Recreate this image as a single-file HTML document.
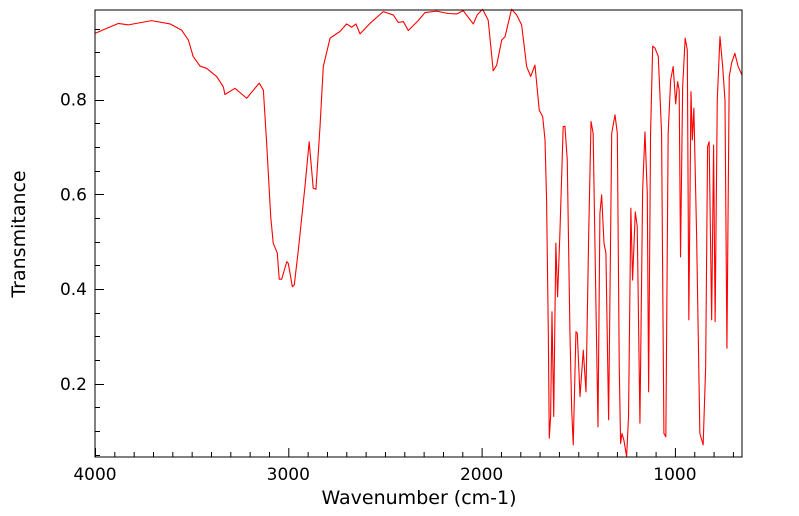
<!DOCTYPE html>
<html><head><meta charset="utf-8"><style>
html,body{margin:0;padding:0;background:#fff;}
svg{display:block;font-family:"DejaVu Sans","Liberation Sans",sans-serif;}
</style></head><body>
<svg id="chart" width="799" height="516" viewBox="0 0 799 516" xmlns="http://www.w3.org/2000/svg">
<g id="axes"></g>
<path id="series" fill="none" stroke="#ff0000" stroke-width="1.1" stroke-linejoin="round"></path>
<rect x="95" y="10" width="647" height="447" fill="none" stroke="#000" stroke-width="1"></rect>
<text x="419" y="504" font-size="19" text-anchor="middle">Wavenumber (cm-1)</text>
<text transform="translate(25,234) rotate(-90)" font-size="19" text-anchor="middle">Transmitance</text>
</svg>
<script>
const wavenumbers = [4000,3880,3828,3707,3612,3552,3517,3492,3457,3422,3371,3336,3328,3276,3215,3181,3150,3129,3112,3091,3078,3057,3047,3034,3008,3000,2979,2969,2948,2914,2892,2871,2857,2836,2819,2784,2733,2698,2672,2650,2629,2578,2509,2457,2431,2405,2379,2328,2293,2233,2173,2129,2095,2043,2023,1995,1966,1940,1922,1896,1879,1845,1819,1793,1767,1746,1724,1702,1684,1672,1664,1655,1650,1643,1636,1627,1616,1607,1595,1578,1569,1557,1543,1534,1526,1512,1505,1491,1474,1460,1446,1434,1423,1409,1398,1388,1379,1367,1357,1343,1327,1310,1298,1288,1281,1274,1264,1250,1240,1228,1219,1205,1195,1181,1167,1155,1143,1136,1126,1115,1103,1086,1069,1057,1047,1035,1022,1009,996,986,978,971,960,947,936,928,917,910,902,888,871,854,841,831,823,810,800,792,781,767,753,741,731,719,707,690,673,653];
const transmittance = [0.940,0.961,0.958,0.967,0.960,0.947,0.926,0.891,0.871,0.866,0.849,0.827,0.811,0.824,0.803,0.820,0.835,0.820,0.708,0.553,0.497,0.476,0.421,0.421,0.458,0.454,0.405,0.409,0.483,0.616,0.711,0.613,0.611,0.743,0.870,0.930,0.944,0.960,0.953,0.960,0.939,0.961,0.986,0.979,0.963,0.965,0.946,0.967,0.984,0.987,0.982,0.981,0.988,0.960,0.979,0.991,0.968,0.861,0.873,0.926,0.933,0.991,0.979,0.958,0.870,0.849,0.873,0.778,0.764,0.715,0.588,0.307,0.085,0.131,0.352,0.131,0.497,0.384,0.518,0.743,0.744,0.673,0.307,0.145,0.071,0.310,0.307,0.173,0.271,0.183,0.518,0.754,0.729,0.377,0.109,0.560,0.599,0.497,0.476,0.124,0.729,0.768,0.729,0.236,0.074,0.095,0.081,0.046,0.131,0.571,0.419,0.563,0.532,0.117,0.609,0.732,0.602,0.183,0.729,0.913,0.909,0.891,0.729,0.095,0.088,0.729,0.842,0.870,0.791,0.838,0.820,0.468,0.827,0.930,0.905,0.335,0.817,0.715,0.782,0.518,0.095,0.071,0.236,0.701,0.711,0.335,0.704,0.331,0.799,0.933,0.870,0.799,0.275,0.849,0.877,0.898,0.870,0.852];
const xTickLabels = [4000,3000,2000,1000];
const yTickLabels = [0.2,0.4,0.6,0.8];

const X0=95,X1=742,Y0=10,Y1=457;
const xDom=[4000,653], yDom=[0.0454,0.9894];
function xs(v){return X0+(xDom[0]-v)/(xDom[0]-xDom[1])*(X1-X0);}
function ys(v){return Y1-(v-yDom[0])/(yDom[1]-yDom[0])*(Y1-Y0);}
const NS="http://www.w3.org/2000/svg";
const axes=document.getElementById('axes');
function line(x1,y1,x2,y2,name){
  const l=document.createElementNS(NS,'line');
  l.setAttribute('x1',x1);l.setAttribute('y1',y1);l.setAttribute('x2',x2);l.setAttribute('y2',y2);
  l.setAttribute('stroke','#000');l.setAttribute('stroke-width','1');
  
  
  axes.appendChild(l);
}
function text(x,y,s,anchor,name){
  const t=document.createElementNS(NS,'text');
  t.setAttribute('x',x);t.setAttribute('y',y);t.setAttribute('font-size','17');t.setAttribute('text-anchor',anchor);
  t.textContent=s;
  
  
  axes.appendChild(t);
}
for(let w=4000; w>=xDom[1]; w-=100){
  const x=xs(w)+0.5; const major=(w%1000===0);
  line(x,Y1,x,Y1-(major?9:5),major?'x-major-tick':'x-minor-tick');
}
xTickLabels.forEach(v=>text(xs(v),480,String(v),'middle','x-tick-label'));
for(let k=1;k<=19;k++){
  const v=k*0.05; if(v<yDom[0]||v>yDom[1]) continue;
  const y=Math.round(ys(v))+0.5; const major=(k%4===0);
  line(X0,y,X0+(major?9:5),y,major?'y-major-tick':'y-minor-tick');
}
yTickLabels.forEach(v=>text(87,ys(v)+6,v.toFixed(1),'end','y-tick-label'));
let d='';
wavenumbers.forEach((w,i)=>{d+=(i?'L':'M')+xs(w).toFixed(2)+','+ys(transmittance[i]).toFixed(2);});
document.getElementById('series').setAttribute('d',d);
</script>
</body></html>
